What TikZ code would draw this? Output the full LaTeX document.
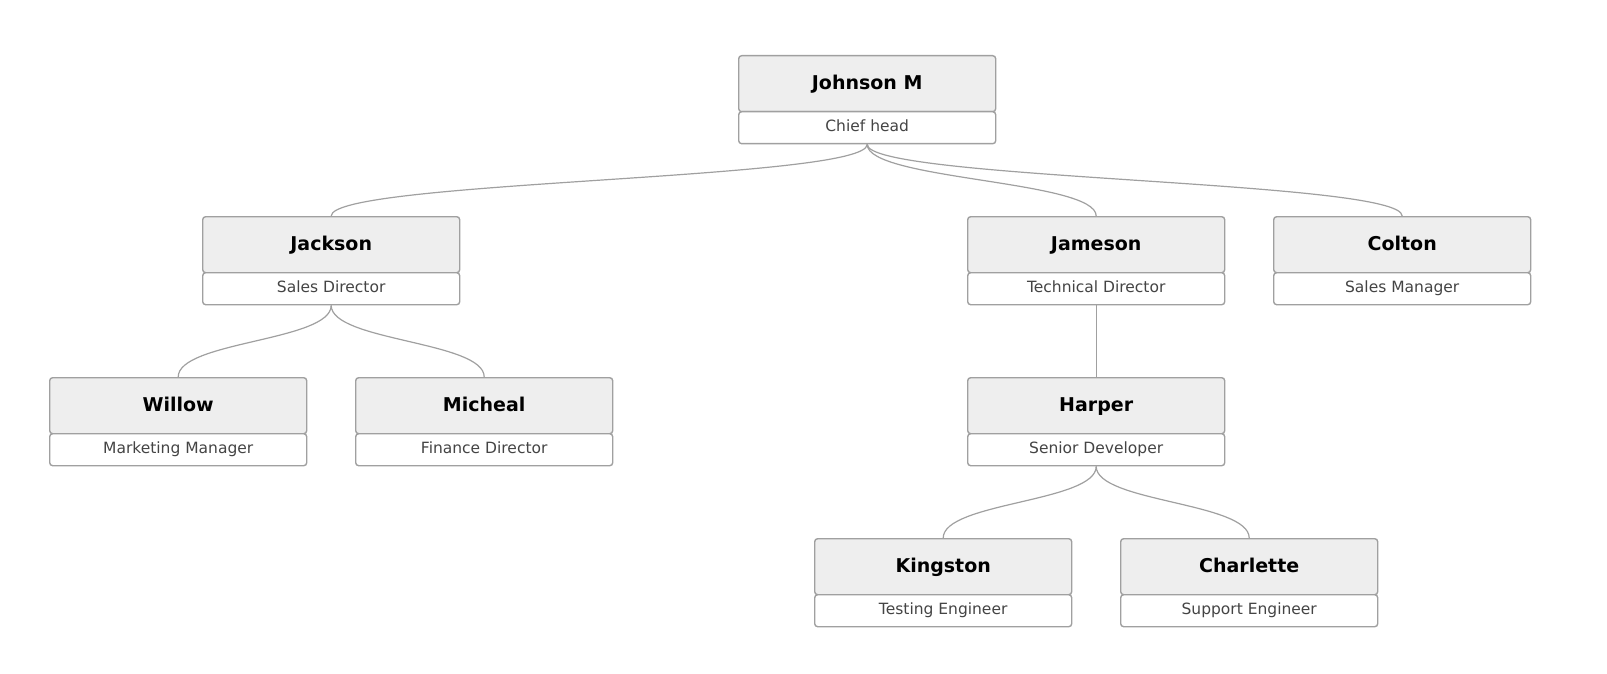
\documentclass[tikz,border=0pt]{standalone}
\usepackage{fontspec}
\setmainfont{DejaVu Sans}
\usetikzlibrary{calc}
\definecolor{linec}{HTML}{A0A0A0}
\definecolor{boxf}{HTML}{EEEEEE}
\definecolor{txtc}{HTML}{444444}
\newcommand{\pers}[5]{%
  \node[namebox] (#1) at (#2,#3) {#4};%
  \node[titlebox] (#1-t) at (#2,#3+56) {#5};}
\newcommand{\lnk}[2]{%
  \draw[link] (#1-t.south) .. controls ($(#1-t.south)!0.5!(#1-t.south|-#2.north)$) and ($(#2.north)!0.5!(#2.north|-#1-t.south)$) .. (#2.north);}
\begin{document}
\begin{tikzpicture}[x=1pt,y=-1pt,
  namebox/.style={draw=linec,fill=boxf,rounded corners=3pt,line width=1.4pt,minimum width=257pt,minimum height=56pt,anchor=north west,inner sep=0pt,text height=14pt,text depth=3pt,font=\fontsize{19}{21}\selectfont\bfseries},
  titlebox/.style={draw=linec,fill=white,rounded corners=3pt,line width=1.4pt,minimum width=257pt,minimum height=32pt,anchor=north west,inner sep=0pt,text=txtc,text height=11.5pt,text depth=3pt,font=\fontsize{15.5}{17}\selectfont},
  link/.style={draw=linec,line width=1.2pt}]
\useasboundingbox (0,0) rectangle (1607,674);
\pers{johnson}{738}{55}{Johnson M}{Chief head}
\pers{jackson}{202}{216}{Jackson}{Sales Director}
\pers{jameson}{967}{216}{Jameson}{Technical Director}
\pers{colton}{1273}{216}{Colton}{Sales Manager}
\pers{willow}{49}{377}{Willow}{Marketing Manager}
\pers{micheal}{355}{377}{Micheal}{Finance Director}
\pers{harper}{967}{377}{Harper}{Senior Developer}
\pers{kingston}{814}{538}{Kingston}{Testing Engineer}
\pers{charlette}{1120}{538}{Charlette}{Support Engineer}
\lnk{johnson}{jackson}
\lnk{johnson}{jameson}
\lnk{johnson}{colton}
\lnk{jackson}{willow}
\lnk{jackson}{micheal}
\lnk{jameson}{harper}
\lnk{harper}{kingston}
\lnk{harper}{charlette}
\end{tikzpicture}
\end{document}
